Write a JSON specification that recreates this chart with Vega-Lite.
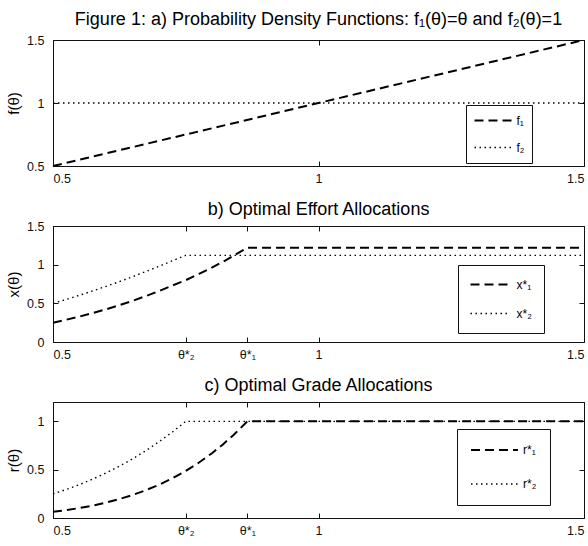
{
  "$schema": "https://vega.github.io/schema/vega-lite/v6.json",
  "padding": {"left": 6, "top": 10, "right": 5, "bottom": 5},
  "background": "white",
  "spacing": 15,
  "config": {
    "view": {"stroke": "#111", "strokeWidth": 1},
    "font": "Liberation Sans",
    "title": {"font": "Liberation Sans", "fontSize": 18, "fontWeight": "normal", "color": "black", "anchor": "middle"},
    "axis": {"labelFont": "Liberation Sans", "labelFontSize": 12.5, "labelColor": "#111", "tickColor": "#111", "tickSize": 5, "offset": -5, "domain": false, "grid": false, "titleFont": "Liberation Sans", "titleFontSize": 15, "titleFontWeight": "normal", "titleColor": "black", "titlePadding": 5},
    "axisBottom": {"labelPadding": 6, "labelFlush": true},
    "axisLeft": {"labelPadding": 9},
    "legend": {"strokeColor": "#111", "fillColor": "white", "symbolStrokeColor": "black", "labelFont": "Liberation Sans", "labelFontSize": 12, "labelColor": "black", "symbolType": "stroke", "clipHeight": 16, "labelOffset": 4}
  },
  "datasets": {
    "p1": [
      {"t": 0.5, "v": 0.5, "s": "f₁"}, {"t": 1.5, "v": 1.5, "s": "f₁"},
      {"t": 0.5, "v": 1.0, "s": "f₂"}, {"t": 1.5, "v": 1.0, "s": "f₂"}
    ],
    "p2": [
      {"t": 0.5, "v": 0.25, "s": "x*₁"}, {"t": 0.525, "v": 0.288, "s": "x*₁"}, {"t": 0.55, "v": 0.329, "s": "x*₁"}, {"t": 0.575, "v": 0.374, "s": "x*₁"},
      {"t": 0.6, "v": 0.423, "s": "x*₁"}, {"t": 0.625, "v": 0.476, "s": "x*₁"}, {"t": 0.65, "v": 0.533, "s": "x*₁"}, {"t": 0.675, "v": 0.594, "s": "x*₁"},
      {"t": 0.7, "v": 0.66, "s": "x*₁"}, {"t": 0.725, "v": 0.731, "s": "x*₁"}, {"t": 0.75, "v": 0.8, "s": "x*₁"}, {"t": 0.775, "v": 0.88, "s": "x*₁"},
      {"t": 0.8, "v": 0.965, "s": "x*₁"}, {"t": 0.825, "v": 1.055, "s": "x*₁"}, {"t": 0.85, "v": 1.155, "s": "x*₁"}, {"t": 0.866, "v": 1.22, "s": "x*₁"},
      {"t": 1.5, "v": 1.22, "s": "x*₁"},
      {"t": 0.5, "v": 0.5, "s": "x*₂"}, {"t": 0.525, "v": 0.551, "s": "x*₂"}, {"t": 0.55, "v": 0.605, "s": "x*₂"}, {"t": 0.575, "v": 0.661, "s": "x*₂"},
      {"t": 0.6, "v": 0.72, "s": "x*₂"}, {"t": 0.625, "v": 0.781, "s": "x*₂"}, {"t": 0.65, "v": 0.845, "s": "x*₂"}, {"t": 0.675, "v": 0.911, "s": "x*₂"},
      {"t": 0.7, "v": 0.98, "s": "x*₂"}, {"t": 0.725, "v": 1.051, "s": "x*₂"}, {"t": 0.75, "v": 1.12, "s": "x*₂"}, {"t": 1.5, "v": 1.12, "s": "x*₂"}
    ],
    "p3": [
      {"t": 0.5, "v": 0.064, "s": "r*₁"}, {"t": 0.525, "v": 0.082, "s": "r*₁"}, {"t": 0.55, "v": 0.103, "s": "r*₁"}, {"t": 0.575, "v": 0.129, "s": "r*₁"},
      {"t": 0.6, "v": 0.16, "s": "r*₁"}, {"t": 0.625, "v": 0.196, "s": "r*₁"}, {"t": 0.65, "v": 0.238, "s": "r*₁"}, {"t": 0.675, "v": 0.288, "s": "r*₁"},
      {"t": 0.7, "v": 0.345, "s": "r*₁"}, {"t": 0.725, "v": 0.411, "s": "r*₁"}, {"t": 0.75, "v": 0.487, "s": "r*₁"}, {"t": 0.775, "v": 0.574, "s": "r*₁"},
      {"t": 0.8, "v": 0.673, "s": "r*₁"}, {"t": 0.82, "v": 0.761, "s": "r*₁"}, {"t": 0.84, "v": 0.859, "s": "r*₁"}, {"t": 0.866, "v": 1.0, "s": "r*₁"},
      {"t": 1.5, "v": 1.0, "s": "r*₁"},
      {"t": 0.5, "v": 0.25, "s": "r*₂"}, {"t": 0.525, "v": 0.295, "s": "r*₂"}, {"t": 0.55, "v": 0.346, "s": "r*₂"}, {"t": 0.575, "v": 0.403, "s": "r*₂"},
      {"t": 0.6, "v": 0.466, "s": "r*₂"}, {"t": 0.625, "v": 0.536, "s": "r*₂"}, {"t": 0.65, "v": 0.613, "s": "r*₂"}, {"t": 0.675, "v": 0.697, "s": "r*₂"},
      {"t": 0.7, "v": 0.79, "s": "r*₂"}, {"t": 0.725, "v": 0.89, "s": "r*₂"}, {"t": 0.75, "v": 1.0, "s": "r*₂"}, {"t": 1.5, "v": 1.0, "s": "r*₂"}
    ]
  },
  "resolve": {"scale": {"x": "independent", "y": "independent", "strokeDash": "independent", "strokeWidth": "independent"}, "legend": {"strokeDash": "independent", "strokeWidth": "independent"}},
  "vconcat": [
    {
      "width": 531, "height": 126,
      "title": {"text": "Figure 1: a) Probability Density Functions: f₁(θ)=θ and f₂(θ)=1", "offset": 5.5},
      "data": {"name": "p1"},
      "layer": [
        {
          "mark": {"type": "line", "color": "black"},
          "encoding": {
            "x": {"field": "t", "type": "quantitative", "scale": {"domain": [0.5, 1.5], "nice": false, "zero": false}, "axis": {"orient": "bottom", "values": [0.5, 1, 1.5], "format": "~g", "title": null}},
            "y": {"field": "v", "type": "quantitative", "scale": {"domain": [0.5, 1.5], "nice": false, "zero": false}, "axis": {"orient": "left", "values": [0.5, 1, 1.5], "format": "~g", "title": "f(θ)"}},
            "strokeDash": {"field": "s", "type": "nominal", "scale": {"domain": ["f₁", "f₂"], "range": [[9, 5], [1.5, 3.5]]}, "legend": {"title": null, "orient": "none", "legendX": 413, "legendY": 65, "padding": 7.5, "rowPadding": 11, "symbolSize": 1369}},
            "strokeWidth": {"field": "s", "type": "nominal", "scale": {"domain": ["f₁", "f₂"], "range": [2, 1.4]}, "legend": {"title": null, "orient": "none", "legendX": 413, "legendY": 65, "padding": 7.5, "rowPadding": 11, "symbolSize": 1369}}
          }
        },
        {
          "mark": {"type": "point", "opacity": 0},
          "encoding": {
            "x": {"field": "t", "type": "quantitative", "axis": {"orient": "top", "values": [0.5, 1, 1.5], "labels": false, "title": null}},
            "y": {"field": "v", "type": "quantitative", "axis": {"orient": "right", "values": [0.5, 1, 1.5], "labels": false, "title": null}}
          }
        }
      ],
      "resolve": {"axis": {"x": "independent", "y": "independent"}}
    },
    {
      "width": 531, "height": 116,
      "title": {"text": "b) Optimal Effort Allocations", "offset": 1.5},
      "data": {"name": "p2"},
      "layer": [
        {
          "mark": {"type": "line", "color": "black"},
          "encoding": {
            "x": {"field": "t", "type": "quantitative", "scale": {"domain": [0.5, 1.5], "nice": false, "zero": false}, "axis": {"orient": "bottom", "values": [0.5, 0.75, 0.866, 1, 1.5], "labelExpr": "datum.value == 0.75 ? 'θ*₂' : datum.value == 0.866 ? 'θ*₁' : format(datum.value, '~g')", "title": null}},
            "y": {"field": "v", "type": "quantitative", "scale": {"domain": [0, 1.5], "nice": false, "zero": false}, "axis": {"orient": "left", "values": [0, 0.5, 1, 1.5], "format": "~g", "title": "x(θ)"}},
            "strokeDash": {"field": "s", "type": "nominal", "scale": {"domain": ["x*₁", "x*₂"], "range": [[9, 5], [1.5, 3.5]]}, "legend": {"title": null, "orient": "none", "legendX": 405, "legendY": 39, "padding": 11.5, "rowPadding": 13, "symbolSize": 1369, "labelOffset": 8}},
            "strokeWidth": {"field": "s", "type": "nominal", "scale": {"domain": ["x*₁", "x*₂"], "range": [2, 1.4]}, "legend": {"title": null, "orient": "none", "legendX": 405, "legendY": 39, "padding": 11.5, "rowPadding": 13, "symbolSize": 1369, "labelOffset": 8}}
          }
        },
        {
          "mark": {"type": "point", "opacity": 0},
          "encoding": {
            "x": {"field": "t", "type": "quantitative", "axis": {"orient": "top", "values": [0.5, 0.75, 0.866, 1, 1.5], "labels": false, "title": null}},
            "y": {"field": "v", "type": "quantitative", "axis": {"orient": "right", "values": [0, 0.5, 1, 1.5], "labels": false, "title": null}}
          }
        }
      ],
      "resolve": {"axis": {"x": "independent", "y": "independent"}}
    },
    {
      "width": 531, "height": 116,
      "title": {"text": "c) Optimal Grade Allocations", "offset": 6.5},
      "data": {"name": "p3"},
      "layer": [
        {
          "mark": {"type": "line", "color": "black"},
          "encoding": {
            "x": {"field": "t", "type": "quantitative", "scale": {"domain": [0.5, 1.5], "nice": false, "zero": false}, "axis": {"orient": "bottom", "values": [0.5, 0.75, 0.866, 1, 1.5], "labelExpr": "datum.value == 0.75 ? 'θ*₂' : datum.value == 0.866 ? 'θ*₁' : format(datum.value, '~g')", "title": null}},
            "y": {"field": "v", "type": "quantitative", "scale": {"domain": [0, 1.2], "nice": false, "zero": false}, "axis": {"orient": "left", "values": [0, 0.5, 1], "format": "~g", "title": "r(θ)"}},
            "strokeDash": {"field": "s", "type": "nominal", "scale": {"domain": ["r*₁", "r*₂"], "range": [[9, 5], [1.5, 3.5]]}, "legend": {"title": null, "orient": "none", "legendX": 404, "legendY": 27, "padding": 13, "rowPadding": 18, "symbolSize": 2209}},
            "strokeWidth": {"field": "s", "type": "nominal", "scale": {"domain": ["r*₁", "r*₂"], "range": [2, 1.4]}, "legend": {"title": null, "orient": "none", "legendX": 404, "legendY": 27, "padding": 13, "rowPadding": 18, "symbolSize": 2209}}
          }
        },
        {
          "mark": {"type": "point", "opacity": 0},
          "encoding": {
            "x": {"field": "t", "type": "quantitative", "axis": {"orient": "top", "values": [0.5, 0.75, 0.866, 1, 1.5], "labels": false, "title": null}},
            "y": {"field": "v", "type": "quantitative", "axis": {"orient": "right", "values": [0, 0.5, 1], "labels": false, "title": null}}
          }
        }
      ],
      "resolve": {"axis": {"x": "independent", "y": "independent"}}
    }
  ]
}
